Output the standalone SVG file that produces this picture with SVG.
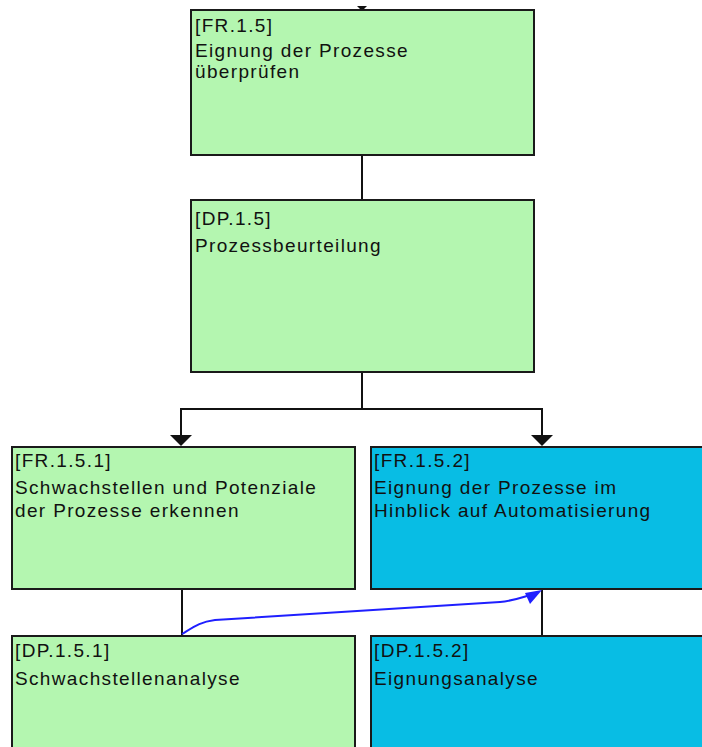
<svg xmlns="http://www.w3.org/2000/svg" width="702" height="747" viewBox="0 0 702 747">
  <style>
    .box { stroke: #1a1a1a; stroke-width: 2; }
    .green { fill: #b4f6b0; }
    .blue { fill: #08bde4; }
    .lbl { font-family: "Liberation Sans", Arial, sans-serif; font-size: 19px; letter-spacing: 1.35px; fill: #111; }
    .conn { stroke: #111; stroke-width: 2; fill: none; }
    .head { fill: #111; }
    .bl { stroke: #1f1fff; stroke-width: 2; fill: none; }
  </style>
  <defs>
    <polygon id="ah" points="-11,-11 11,-11 0,0"/>
  </defs>
  <rect width="702" height="747" fill="#ffffff"/>

  <g id="connectors">
    <polygon class="head" points="357,6 367,6 362,11"/>
    <line class="conn" x1="362" y1="155" x2="362" y2="200"/>
    <polyline class="conn" points="362,372 362,409 181,409 181,436"/>
    <polyline class="conn" points="362,409 542,409 542,436"/>
    <use href="#ah" class="head" x="181" y="446"/>
    <use href="#ah" class="head" x="542" y="446"/>
    <line class="conn" x1="182" y1="589" x2="182" y2="636"/>
    <line class="conn" x1="542" y1="589" x2="542" y2="636"/>
    <path class="bl" d="M182,634 C195,626 200,622 215,620 L500,602 C512,601 520,598 530,595"/>
    <polygon fill="#1f1fff" points="542,590 525,593 530,604"/>
  </g>

  <g id="FR.1.5">
    <rect class="box green" x="191" y="10" width="343" height="145"/>
    <text class="lbl" x="195" y="32">[FR.1.5]</text>
    <text class="lbl" x="195" y="57">Eignung der Prozesse</text>
    <text class="lbl" x="195" y="78">überprüfen</text>
  </g>

  <g id="DP.1.5">
    <rect class="box green" x="191" y="200" width="343" height="172"/>
    <text class="lbl" x="195" y="225">[DP.1.5]</text>
    <text class="lbl" x="195" y="252">Prozessbeurteilung</text>
  </g>

  <g id="FR.1.5.1">
    <rect class="box green" x="12" y="447" width="343" height="142"/>
    <text class="lbl" x="15" y="467">[FR.1.5.1]</text>
    <text class="lbl" x="15" y="494">Schwachstellen und Potenziale</text>
    <text class="lbl" x="15" y="517">der Prozesse erkennen</text>
  </g>

  <g id="FR.1.5.2">
    <rect class="box blue" x="371" y="447" width="343" height="142"/>
    <text class="lbl" x="374" y="467">[FR.1.5.2]</text>
    <text class="lbl" x="374" y="494">Eignung der Prozesse im</text>
    <text class="lbl" x="374" y="517">Hinblick auf Automatisierung</text>
  </g>

  <g id="DP.1.5.1">
    <rect class="box green" x="12" y="636" width="343" height="150"/>
    <text class="lbl" x="15" y="657">[DP.1.5.1]</text>
    <text class="lbl" x="15" y="685">Schwachstellenanalyse</text>
  </g>

  <g id="DP.1.5.2">
    <rect class="box blue" x="371" y="636" width="343" height="150"/>
    <text class="lbl" x="374" y="657">[DP.1.5.2]</text>
    <text class="lbl" x="374" y="685">Eignungsanalyse</text>
  </g>
</svg>
